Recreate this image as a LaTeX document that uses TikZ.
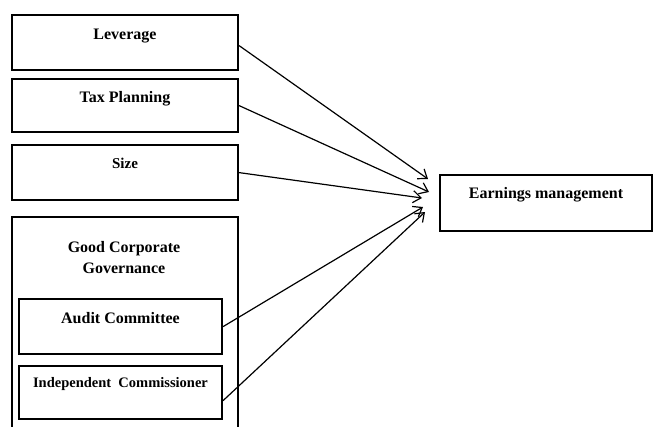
\documentclass[tikz,border=0pt]{standalone}
\usepackage{fontspec}
\setmainfont{Liberation Serif}
\usetikzlibrary{arrows.meta}

\tikzset{
  varbox/.style={draw, line width=2.2pt, inner xsep=0pt, inner ysep=0pt, anchor=north,
    font=\bfseries\fontsize{16}{19}\selectfont},
  effect/.style={line width=1.2pt, -{Straight Barb[length=8pt,width=12pt,line width=1.2pt]}}
}

\begin{document}
\begin{tikzpicture}[x=1pt,y=-1pt]
  \useasboundingbox (0,0) rectangle (653,426);
  % independent variables
  \node[varbox, minimum width=226pt, text height=24pt, text depth=31pt] (lev) at (125,14) {Leverage};
  \node[varbox, minimum width=226pt, text height=23pt, text depth=30pt] (tax) at (125,78) {Tax Planning};
  \node[varbox, minimum width=226pt, text height=23pt, text depth=32pt, font=\bfseries\fontsize{15}{18}\selectfont] (size) at (125,144) {Size};
  % governance group, runs off the bottom
  \node[varbox, minimum width=226pt, minimum height=240pt] (gcg) at (125,216) {};
  \node[font=\bfseries\fontsize{16}{21}\selectfont, align=center, anchor=base] (gcgtitle) at (124,273) {Good Corporate\\Governance};
  \node[varbox, minimum width=203pt, text height=24pt, text depth=31pt] (audit) at (120.5,298) {Audit Committee};
  \node[varbox, minimum width=203pt, text height=21pt, text depth=32pt, font=\bfseries\fontsize{14.5}{17}\selectfont] (ic) at (120.5,365) {Independent\ \ Commissioner};
  % dependent variable
  \node[varbox, minimum width=212pt, text height=23pt, text depth=33pt] (earn) at (546,174) {Earnings management};

  \coordinate (tip1) at (428,179);
  \coordinate (tip2) at (429,192);
  \coordinate (tip3) at (422,198);
  \coordinate (tip4) at (423,207);
  \coordinate (tip5) at (425,212);

  \draw[effect] ([yshift=-3pt]lev.east) -- (tip1);
  \draw[effect] (tax.east) -- (tip2);
  \draw[effect] (size.east) -- (tip3);
  \draw[effect] (audit.east) -- (tip4);
  \draw[effect] ([yshift=-8pt]ic.east) -- (tip5);
\end{tikzpicture}
\end{document}
